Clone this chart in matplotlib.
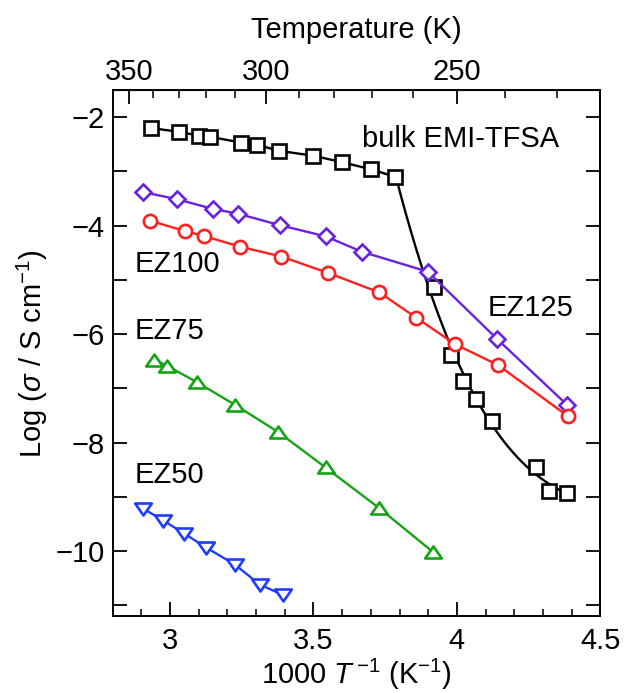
import numpy as np
import matplotlib
matplotlib.use("Agg")
import matplotlib.pyplot as plt
from matplotlib.path import Path
from matplotlib.ticker import FixedLocator, MultipleLocator, NullFormatter, FuncFormatter

plt.rcParams['font.family'] = ['Liberation Sans', 'DejaVu Sans']
plt.rcParams['mathtext.fontset'] = 'custom'
plt.rcParams['mathtext.rm'] = 'Liberation Sans'
plt.rcParams['mathtext.it'] = 'Liberation Sans:italic'
plt.rcParams['mathtext.bf'] = 'Liberation Sans:bold'

# ---- data (1000/T, log sigma) ----
bulk_x = [2.934, 3.031, 3.101, 3.139, 3.249, 3.304, 3.380, 3.499, 3.600, 3.700, 3.785,
          3.920, 3.978, 4.022, 4.065, 4.123, 4.275, 4.322, 4.385]
bulk_y = [-2.20, -2.27, -2.34, -2.36, -2.47, -2.51, -2.62, -2.71, -2.83, -2.96, -3.10,
          -5.14, -6.38, -6.87, -7.20, -7.60, -8.45, -8.89, -8.93]
bulk_split = 10  # index of last point of the liquid branch (curve starts here)

ez125_x = [2.904, 3.023, 3.148, 3.237, 3.382, 3.544, 3.668, 3.899, 4.140, 4.385]
ez125_y = [-3.38, -3.51, -3.69, -3.78, -3.99, -4.20, -4.48, -4.85, -6.09, -7.31]

ez100_x = [2.931, 3.052, 3.118, 3.245, 3.388, 3.550, 3.729, 3.859, 3.995, 4.143, 4.386]
ez100_y = [-3.91, -4.10, -4.19, -4.39, -4.57, -4.87, -5.23, -5.70, -6.19, -6.57, -7.51]

ez75_x = [2.945, 2.988, 3.095, 3.228, 3.378, 3.542, 3.727, 3.917]
ez75_y = [-6.47, -6.58, -6.89, -7.31, -7.81, -8.46, -9.20, -10.02]

ez50_x = [2.907, 2.977, 3.050, 3.127, 3.226, 3.313, 3.394]
ez50_y = [-9.22, -9.44, -9.68, -9.94, -10.25, -10.62, -10.81]

top_major_T = [350, 300, 250]
top_minor_T = [340, 330, 320, 310, 290, 280, 270, 260, 240, 230]

labels = ["bulk EMI-TFSA", "EZ125", "EZ100", "EZ75", "EZ50"]

# ---- styles ----
C_BULK = 'black'
C_125 = '#6a22e0'
C_100 = '#ff1f1f'
C_75 = '#16a316'
C_50 = '#1f3cff'
FS = 21

up_tri = Path([(0, 0.72), (-1, -0.72), (1, -0.72), (0, 0.72)],
              [Path.MOVETO, Path.LINETO, Path.LINETO, Path.CLOSEPOLY])
down_tri = Path([(0, -0.72), (-1, 0.72), (1, 0.72), (0, -0.72)],
                [Path.MOVETO, Path.LINETO, Path.LINETO, Path.CLOSEPOLY])

fig = plt.figure(figsize=(6.26, 6.93), dpi=100)
ax = fig.add_axes([0.180, 0.111, 0.779, 0.759])

lw = 1.7
mew = 1.9
# bulk: liquid branch as line, low-temperature branch as smooth fit curve
ax.plot(bulk_x[:bulk_split + 1], bulk_y[:bulk_split + 1], '-', color=C_BULK, lw=lw, zorder=2)
fx = np.array(bulk_x[bulk_split:])
fy = np.array(bulk_y[bulk_split:])
coef = np.polyfit(fx, fy, 3)
xx = np.linspace(fx.min(), fx.max(), 200)
ax.plot(xx, np.polyval(coef, xx), '-', color=C_BULK, lw=lw, zorder=2)
ax.plot(bulk_x, bulk_y, 's', ls='none', mfc='white', mec=C_BULK, ms=9.5, mew=mew, zorder=3)

ax.plot(ez125_x, ez125_y, '-D', color=C_125, mfc='white', mec=C_125, ms=8.5, mew=mew, lw=lw, zorder=3)
ax.plot(ez100_x, ez100_y, '-o', color=C_100, mfc='white', mec=C_100, ms=9.5, mew=mew, lw=lw, zorder=3)
ax.plot(ez75_x, ez75_y, '-', marker=up_tri, color=C_75, mfc='white', mec=C_75, ms=12, mew=mew, lw=lw, zorder=3)
ax.plot(ez50_x, ez50_y, '-', marker=down_tri, color=C_50, mfc='white', mec=C_50, ms=12, mew=mew, lw=lw, zorder=3)

# labels
ax.text(3.669, -2.41, labels[0], fontsize=FS, va='center', ha='left')
ax.text(4.108, -5.52, labels[1], fontsize=FS, va='center', ha='left')
ax.text(2.878, -4.71, labels[2], fontsize=FS, va='center', ha='left')
ax.text(2.878, -5.95, labels[3], fontsize=FS, va='center', ha='left')
ax.text(2.878, -8.60, labels[4], fontsize=FS, va='center', ha='left')

ax.set_xlim(2.8, 4.5)
ax.set_ylim(-11.2, -1.5)

ax.xaxis.set_major_locator(FixedLocator([3.0, 3.5, 4.0, 4.5]))
ax.xaxis.set_minor_locator(MultipleLocator(0.1))
ax.xaxis.set_major_formatter(FuncFormatter(lambda v, p: ('%g' % v)))
ax.yaxis.set_major_locator(MultipleLocator(1))
ax.yaxis.set_major_formatter(FuncFormatter(lambda v, p: ('\u2212%d' % abs(round(v))) if round(v) % 2 == 0 else ''))

ax.tick_params(axis='x', which='major', direction='in', length=10, width=1.3, labelsize=FS, pad=8, top=False)
ax.tick_params(axis='x', which='minor', direction='in', length=5, width=1.1, top=False)
ax.tick_params(axis='y', which='major', direction='in', length=10, width=1.3, labelsize=FS, pad=6, right=True)

for s in ax.spines.values():
    s.set_linewidth(1.4)

sec = ax.secondary_xaxis('top', functions=(lambda x: 1000.0 / np.asarray(x, dtype=float),
                                           lambda t: 1000.0 / np.asarray(t, dtype=float)))
sec.xaxis.set_major_locator(FixedLocator(top_major_T))
sec.xaxis.set_minor_locator(FixedLocator(top_minor_T))
sec.xaxis.set_minor_formatter(NullFormatter())
sec.tick_params(axis='x', which='major', direction='in', length=10, width=1.3, labelsize=FS, pad=3)
sec.tick_params(axis='x', which='minor', direction='in', length=6, width=1.1)
sec.set_xlabel('Temperature (K)', fontsize=FS, labelpad=14)

ax.set_xlabel('1000 $T^{\\,\\mathregular{-1}}$ (K$^{\\mathregular{-1}}$)', fontsize=FS, labelpad=1)
ax.set_ylabel('Log ($\\sigma$ / S cm$^{\\mathregular{-1}}$)', fontsize=FS, labelpad=4)

fig.savefig('out.png', dpi=100)
